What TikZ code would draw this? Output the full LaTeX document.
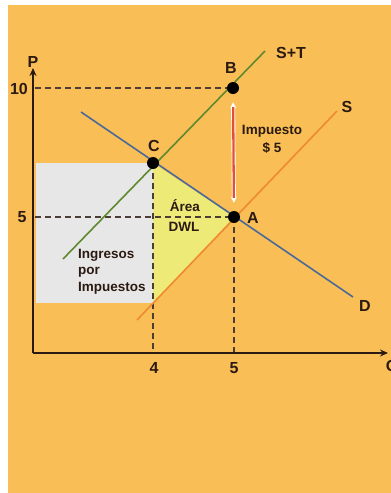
\documentclass[tikz,border=0pt]{standalone}
\usepackage{fontspec}
\setmainfont{Liberation Sans}
\usetikzlibrary{arrows.meta}
\definecolor{bgorange}{HTML}{F9BE55}
\definecolor{revgray}{HTML}{E7E7E7}
\definecolor{dwlyellow}{HTML}{EEEA78}
\definecolor{stgreen}{HTML}{5E8A2E}
\definecolor{sorange}{HTML}{F08A30}
\definecolor{dblue}{HTML}{4A6A9A}
\definecolor{taxred}{HTML}{E2503A}
\definecolor{ink}{HTML}{2B1A12}
\tikzset{
  big/.style={font=\fontsize{16}{18}\selectfont\bfseries, text=ink, inner sep=0pt},
  small/.style={font=\fontsize{13.5}{15}\selectfont\bfseries, text=ink, inner sep=0pt},
  dot/.style={circle, fill=black, minimum size=12pt, inner sep=0pt},
  axisline/.style={draw=ink, line width=2.2pt, -{Stealth[length=8pt,width=7pt]}},
  guide/.style={draw=ink!85, line width=1.3pt, dash pattern=on 6pt off 4pt},
  curve/.style={line width=1.6pt},
}
\begin{document}
\begin{tikzpicture}[x=1pt,y=-1pt]
\useasboundingbox (0,0) rectangle (391,493);
\fill[white] (0,0) rectangle (391,493);
\fill[bgorange] (8,5) rectangle (391,493);

% key points
\coordinate (O) at (33,353);
\coordinate (Ptop) at (33,68);
\coordinate (Qend) at (388,353);
\coordinate (yTen) at (35,88);
\coordinate (yFive) at (35,217);
\coordinate (xFour) at (153,352);
\coordinate (xFive) at (234,352);
\coordinate (Slow) at (153,303);

% areas
\fill[revgray] (36,163) rectangle (Slow);
\fill[dwlyellow] (153,163) -- (234,217) -- (Slow) -- cycle;

% dashed guides
\draw[guide] (yTen) -- (233,88);
\draw[guide] (yFive) -- (234,217);
\draw[guide] (153,163) -- (xFour);
\draw[guide] (234,217) -- (xFive);

% curves
\coordinate (STa) at (63,259);
\coordinate (STb) at (265,51);
\coordinate (Sa) at (137,320);
\coordinate (Sb) at (337,111);
\coordinate (Da) at (81,112);
\coordinate (Db) at (353,297);
\draw[curve, stgreen] (STa) -- (STb);
\draw[curve, sorange] (Sa) -- (Sb);
\draw[curve, dblue] (Da) -- (Db);

% axes
\draw[axisline] (O) -- (Ptop);
\draw[axisline] (O) -- (Qend);

% points
\node[dot] (B) at (233,88) {};
\node[dot] (C) at (153,163) {};
\node[dot] (A) at (234,217) {};

% tax arrow
\draw[white, line width=4pt, {Stealth[length=6pt,width=6pt]}-{Stealth[length=6pt,width=6pt]}, shorten <=8pt, shorten >=8pt] (B) -- (A);
\draw[taxred, line width=2.3pt, shorten <=13pt, shorten >=13pt] (B) -- (A);

% labels
\node[big] (lP) at (33,62) {P};
\node[big] (lQ) at (392,367) {Q};
\node[big] (l10) at (19,89) {10};
\node[big] (l5y) at (22,217) {5};
\node[big] (l4) at (154,368) {4};
\node[big] (l5x) at (234,368) {5};
\node[big] (lB) at (231,68) {B};
\node[big] (lC) at (154,146) {C};
\node[big] (lA) at (253,218) {A};
\node[big] (lS) at (347,107) {S};
\node[big] (lST) at (291,53) {S+T};
\node[big] (lD) at (365,306) {D};
\node[small] (imp) at (272,131) {Impuesto};
\node[small] (tax) at (272,148) {\$ 5};
\node[small] (area) at (185,206) {Área};
\node[small] (dwl) at (184,227) {DWL};
\node[small, anchor=west] (ing) at (78,255) {Ingresos};
\node[small, anchor=west] (por) at (78,272) {por};
\node[small, anchor=west] (imps) at (78,288) {Impuestos};
\end{tikzpicture}
\end{document}
